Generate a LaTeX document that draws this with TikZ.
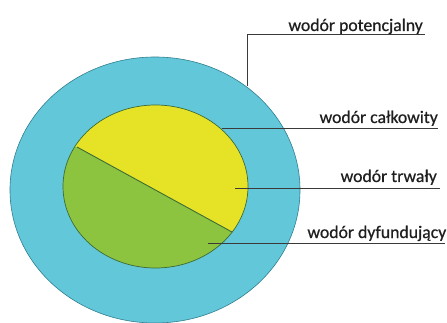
\documentclass[tikz,border=0pt]{standalone}
\usepackage{fontspec}
\setmainfont{Carlito}[FakeBold=0.6]
\definecolor{cyanfill}{HTML}{63C7DA}
\definecolor{cyanline}{HTML}{2F7F90}
\definecolor{yelfill}{HTML}{E6E327}
\definecolor{grnfill}{HTML}{8CC43F}
\definecolor{grnline}{HTML}{3C6B35}
\definecolor{leader}{HTML}{3A3A3A}
\begin{document}
\begin{tikzpicture}[x=1pt,y=-1pt,
  lbl/.style={font=\fontsize{17.7}{20}\selectfont, text=black!88, inner sep=0pt, anchor=base east},
  leadline/.style={draw=leader, line width=0.7pt}]
\useasboundingbox (0,0) rectangle (447,323);
\fill[white] (0,0) rectangle (447,323);
% outer ellipse
\begin{scope}
\clip (0,0) rectangle (447,323);
\draw[fill=cyanfill, draw=cyanline, line width=0.6pt] (155,190) ellipse [x radius=145, y radius=133];
\end{scope}
% inner ellipse halves
\begin{scope}
\clip (155.5,186.5) ellipse [x radius=92.5, y radius=81.5];
\fill[grnfill] (20,136) -- (77,147) -- (232,232) -- (300,269) -- (300,300) -- (20,300) -- cycle;
\fill[yelfill] (20,60) -- (300,60) -- (300,269) -- (232,232) -- (77,147) -- (20,136) -- cycle;
\end{scope}
\coordinate (d1) at (77,147);
\coordinate (d2) at (232,232);
\draw[grnline, line width=0.9pt] (d1) -- (d2);
\draw[draw=grnline, line width=0.7pt] (155.5,186.5) ellipse [x radius=92.5, y radius=81.5];
% labels
\node[lbl] (tp) at (423,31) {wodór potencjalny};
\node[lbl] (tc) at (438,123) {wodór całkowity};
\node[lbl] (tt) at (437,182) {wodór trwały};
\node[lbl] (td) at (446.5,238) {wodór dyfundujący};
% leader lines
\coordinate (p0) at (247,86);
\coordinate (p1) at (247,34);
\coordinate (p2) at (425,34);
\draw[leadline] (p0) -- (p1) -- (p2);
\coordinate (c0) at (222,128);
\coordinate (c1) at (438,128);
\draw[leadline] (c0) -- (c1);
\coordinate (t0) at (235,188);
\coordinate (t1) at (440,188);
\draw[leadline] (t0) -- (t1);
\coordinate (f0) at (208,243.5);
\coordinate (f1) at (445,243.5);
\draw[leadline] (f0) -- (f1);
\end{tikzpicture}
\end{document}
